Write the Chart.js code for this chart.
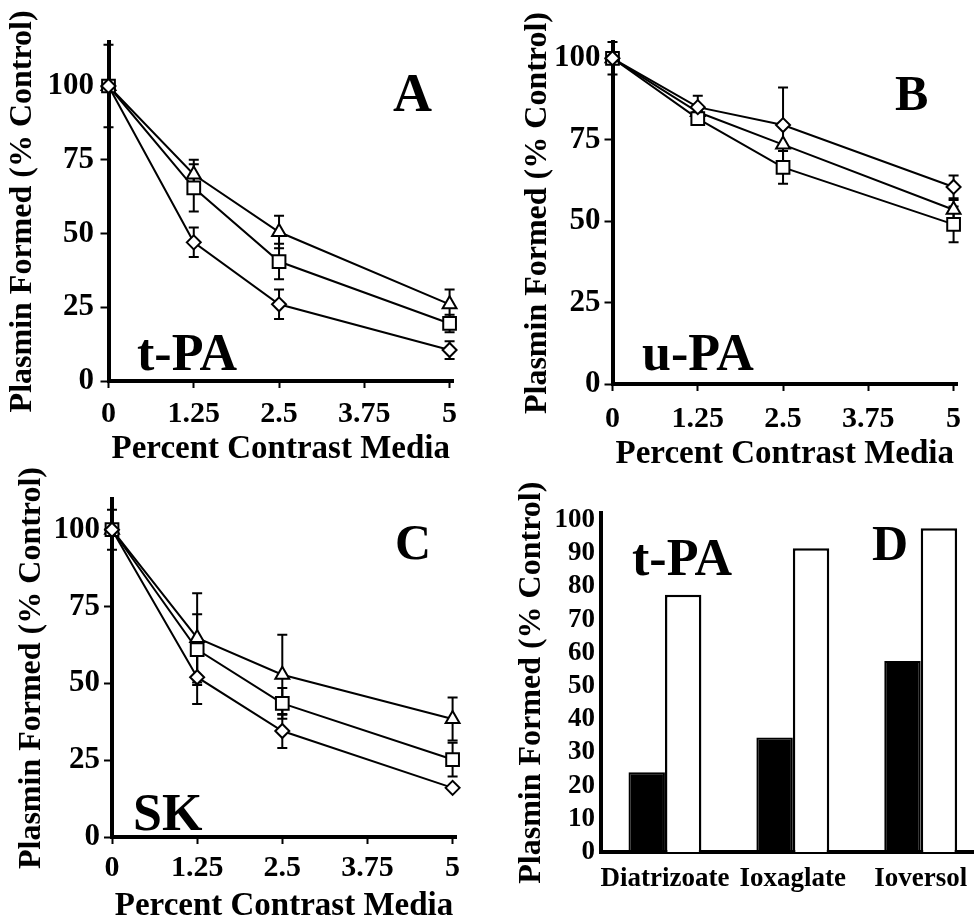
<!DOCTYPE html>
<html>
<head>
<meta charset="utf-8">
<script src="https://cdn.jsdelivr.net/npm/chart.js@4"></script>
<style>
  html, body { margin: 0; background: #fff; overflow: hidden; width: 978px; height: 917px; }
  canvas { position: absolute; }
</style>
</head>
<body>
<canvas id="chartA" width="490" height="475" style="left:0;top:0"></canvas>
<canvas id="chartB" width="488" height="480" style="left:490px;top:0"></canvas>
<canvas id="chartC" width="490" height="480" style="left:0;top:458px"></canvas>
<canvas id="chartD" width="488" height="459" style="left:490px;top:458px"></canvas>
<script>
// percent contrast media used in panels A-C
const concentrations = [0, 1.25, 2.5, 5]
const concentrationTicks = [0, 1.25, 2.5, 3.75, 5]
const percentTicks = [0, 25, 50, 75, 100]

// A: t-PA
const tpaDiatrizoate = [100, 47, 26, 10.5]
const tpaDiatrizoateErr = [14, 5, 5, 3]
const tpaIoxaglate = [100, 65.5, 40.5, 19.5]
const tpaIoxaglateErr = [0, 8, 6, 3]
const tpaIoversol = [100, 70, 50.5, 26]
const tpaIoversolErr = [0, 5, 5.5, 5]

// B: u-PA
const upaDiatrizoate = [100, 85, 79.5, 60.5]
const upaDiatrizoateErr = [5, 3.5, 11.5, 3.5]
const upaIoxaglate = [100, 81.5, 66.5, 49]
const upaIoxaglateErr = [0, 0, 5, 5.5]
const upaIoversol = [100, 83.5, 73.5, 53.5]
const upaIoversolErr = [0, 0, 0, 3]

// C: SK
const skDiatrizoate = [100, 52, 34.5, 16]
const skDiatrizoateErr = [6.5, 8.7, 5.5, 0]
const skIoxaglate = [100, 61, 43.5, 25.2]
const skIoxaglateErr = [0, 11.5, 5, 5.5]
const skIoversol = [100, 64.8, 52.8, 38.4]
const skIoversolErr = [0, 14.5, 13, 7]

// D: t-PA, bar pairs per contrast medium
const media = ['Diatrizoate', 'Ioxaglate', 'Ioversol']
const barsFilled = [24, 34.5, 57.5]
const barsOpen = [77.5, 91.5, 97.5]
const barTicks = [0, 10, 20, 30, 40, 50, 60, 70, 80, 90, 100]

Chart.defaults.font.family = '"Liberation Serif", "Times New Roman", serif'
Chart.defaults.font.weight = 'bold'
Chart.defaults.color = '#000'

const errorBars = {
  id: 'errorBars',
  beforeDatasetsDraw (chart) {
    const { ctx } = chart
    const y = chart.scales.y
    ctx.save()
    ctx.strokeStyle = '#000'
    ctx.lineWidth = 2
    chart.data.datasets.forEach((ds, i) => {
      if (!ds.errors) return
      chart.getDatasetMeta(i).data.forEach((pt, j) => {
        const e = ds.errors[j]
        if (!e) return
        const v = ds.data[j].y
        const top = y.getPixelForValue(v + e)
        const bottom = y.getPixelForValue(v - e)
        ctx.beginPath()
        ctx.moveTo(pt.x, top)
        ctx.lineTo(pt.x, bottom)
        ctx.moveTo(pt.x - 5, top)
        ctx.lineTo(pt.x + 5, top)
        ctx.moveTo(pt.x - 5, bottom)
        ctx.lineTo(pt.x + 5, bottom)
        ctx.stroke()
      })
    })
    ctx.restore()
  }
}

const panelText = {
  id: 'panelText',
  afterDraw (chart, args, opts) {
    const { ctx } = chart
    ctx.save()
    ctx.fillStyle = '#000'
    ctx.textAlign = 'left'
    ctx.textBaseline = 'alphabetic'
    ;(opts.items || []).forEach(t => {
      ctx.font = 'bold ' + t.size + 'px "Liberation Serif", serif'
      ctx.fillText(t.text, t.x, t.y)
    })
    ctx.restore()
  }
}

function series (values, errors, style, radius) {
  return {
    data: concentrations.map((x, i) => ({ x, y: values[i] })),
    errors,
    pointStyle: style,
    pointRadius: radius,
    pointBorderWidth: 2,
    pointBorderColor: '#000',
    pointBackgroundColor: '#fff',
    borderColor: '#000',
    borderWidth: 2,
    tension: 0,
    clip: false
  }
}

function lineChart (id, o) {
  return new Chart(document.getElementById(id), {
    type: 'line',
    data: { datasets: o.datasets },
    options: {
      responsive: false,
      animation: false,
      events: [],
      layout: { padding: o.padding },
      plugins: {
        legend: { display: false },
        tooltip: { enabled: false },
        panelText: { items: o.texts }
      },
      scales: {
        x: {
          type: 'linear',
          min: 0,
          max: 5.05,
          afterBuildTicks: s => { s.ticks = concentrationTicks.map(v => ({ value: v })) },
          afterFit: s => { s.height = o.xHeight },
          grid: { display: true, drawOnChartArea: false, drawTicks: true, tickLength: 7, tickWidth: 2, tickColor: '#000' },
          border: { display: true, color: '#000', width: 4 },
          ticks: { font: { size: 30 }, padding: o.xTickPad, maxRotation: 0, autoSkip: false, callback: v => String(v) },
          title: { display: true, text: 'Percent Contrast Media', font: { size: 33 }, padding: { top: 0, bottom: o.xTitlePad } }
        },
        y: {
          min: 0,
          max: o.yMax,
          afterBuildTicks: s => { s.ticks = percentTicks.map(v => ({ value: v })) },
          afterFit: s => { s.width = o.yWidth },
          grid: { display: true, drawOnChartArea: false, drawTicks: true, tickLength: 8, tickWidth: 2, tickColor: '#000' },
          border: { display: true, color: '#000', width: 4 },
          ticks: { font: { size: 31 }, padding: o.yTickPad, autoSkip: false },
          title: { display: true, text: 'Plasmin Formed (% Control)', font: { size: 32 }, padding: { top: o.yTitlePad, bottom: 0 } }
        }
      }
    },
    plugins: [errorBars, panelText]
  })
}

lineChart('chartA', {
  datasets: [
    series(tpaDiatrizoate, tpaDiatrizoateErr, 'rectRot', 7),
    series(tpaIoxaglate, tpaIoxaglateErr, 'rect', 9),
    series(tpaIoversol, tpaIoversolErr, 'triangle', 8)
  ],
  padding: { left: 0, top: 41.75, right: 37, bottom: 0 },
  yMax: 115, yWidth: 108.5, xHeight: 94,
  xTickPad: 8, xTitlePad: 6.2, yTickPad: 6.5, yTitlePad: 3.8,
  texts: [{ text: 'A', x: 393, y: 111, size: 54 }, { text: 't-PA', x: 137, y: 370, size: 52 }]
})

lineChart('chartB', {
  datasets: [
    series(upaDiatrizoate, upaDiatrizoateErr, 'rectRot', 7),
    series(upaIoxaglate, upaIoxaglateErr, 'rect', 9),
    series(upaIoversol, upaIoversolErr, 'triangle', 8)
  ],
  padding: { left: 0, top: 42, right: 21, bottom: 0 },
  yMax: 105, yWidth: 122.5, xHeight: 96,
  xTickPad: 10, xTitlePad: 6.2, yTickPad: 4, yTitlePad: 28.8,
  texts: [{ text: 'B', x: 405, y: 110, size: 50 }, { text: 'u-PA', x: 152, y: 370, size: 52 }]
})

lineChart('chartC', {
  datasets: [
    series(skDiatrizoate, skDiatrizoateErr, 'rectRot', 7),
    series(skIoxaglate, skIoxaglateErr, 'rect', 9),
    series(skIoversol, skIoversolErr, 'triangle', 8)
  ],
  padding: { left: 0, top: 41, right: 34, bottom: 0 },
  yMax: 110, yWidth: 112, xHeight: 101,
  xTickPad: 6, xTitlePad: 12.2, yTickPad: 4, yTitlePad: 12.8,
  texts: [{ text: 'C', x: 395, y: 101, size: 50 }, { text: 'SK', x: 133, y: 372, size: 52 }]
})

const barPositions = media.map((m, i) => i + 1)

new Chart(document.getElementById('chartD'), {
  type: 'bar',
  data: {
    datasets: [
      { data: barPositions.map((x, i) => ({ x, y: barsFilled[i] })), backgroundColor: '#000', borderColor: '#000', borderWidth: 2 },
      { data: barPositions.map((x, i) => ({ x, y: barsOpen[i] })), backgroundColor: '#fff', borderColor: '#000', borderWidth: 2.5 }
    ]
  },
  options: {
    responsive: false,
    animation: false,
    events: [],
    categoryPercentage: 0.57,
    barPercentage: 1,
    layout: { padding: { left: 0, top: 55.4, right: 0, bottom: 0 } },
    plugins: {
      legend: { display: false },
      tooltip: { enabled: false },
      panelText: { items: [{ text: 'D', x: 382, y: 102, size: 50 }, { text: 't-PA', x: 142, y: 117, size: 52 }] }
    },
    scales: {
      x: {
        type: 'linear',
        offset: false,
        min: 0.5,
        max: 3.41,
        afterBuildTicks: s => { s.ticks = barPositions.map(v => ({ value: v })) },
        afterFit: s => { s.height = 65 },
        grid: { display: false, drawTicks: false },
        border: { display: true, color: '#000', width: 4 },
        ticks: { font: { size: 27 }, padding: 10.8, maxRotation: 0, autoSkip: false, callback: v => media[v - 1] }
      },
      y: {
        min: 0,
        max: 102,
        afterBuildTicks: s => { s.ticks = barTicks.map(v => ({ value: v })) },
        afterFit: s => { s.width = 111 },
        grid: { display: false, drawTicks: false },
        border: { display: true, color: '#000', width: 4 },
        ticks: { font: { size: 27 }, padding: 6, autoSkip: false },
        title: { display: true, text: 'Plasmin Formed (% Control)', font: { size: 32 }, padding: { top: 22.8, bottom: 0 } }
      }
    }
  },
  plugins: [panelText]
})
</script>
</body>
</html>
